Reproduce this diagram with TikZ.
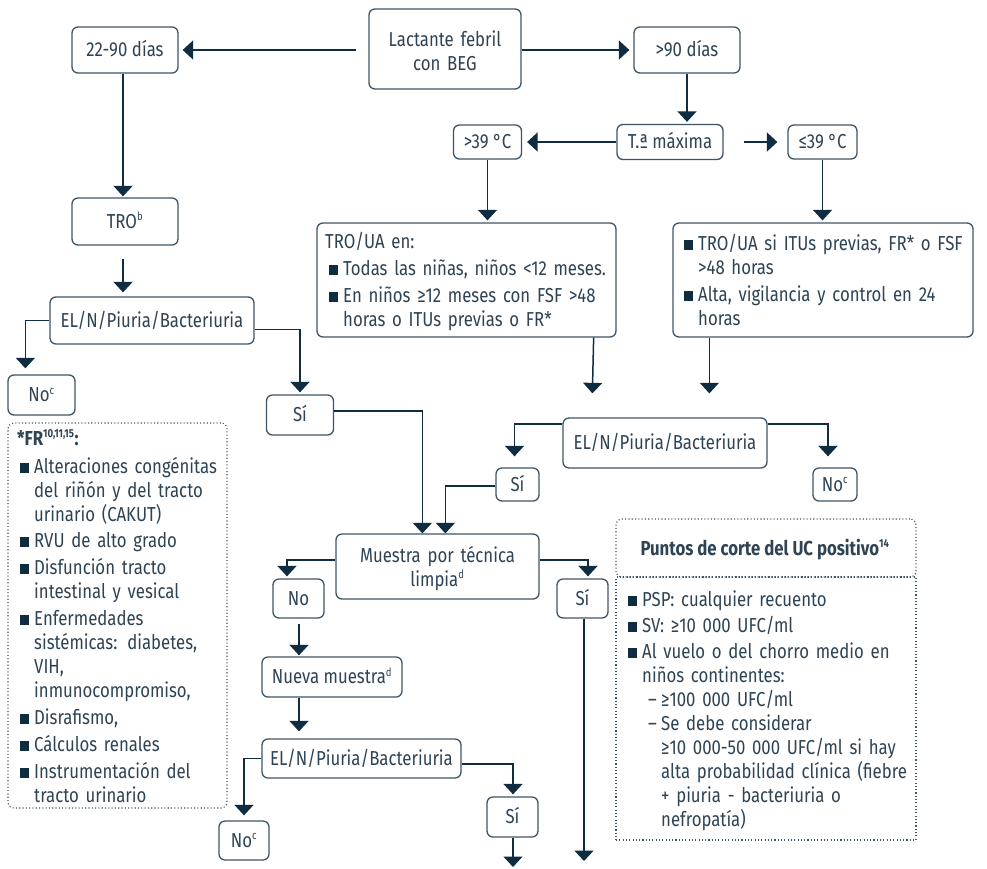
\documentclass[tikz,border=0pt]{standalone}
\usepackage{fontspec}
\setmainfont{Fira Sans}[FakeStretch=0.83]
\usetikzlibrary{arrows.meta,calc}
\definecolor{txt}{HTML}{2E4354}
\definecolor{arc}{HTML}{0F2C40}
\definecolor{brd}{HTML}{3E5566}
\newcommand\fsz{\fontsize{20.2}{24}\selectfont}
\newcommand\bsq{\textcolor{arc}{\rule{8.5pt}{10pt}}}
\newcommand\bl{\makebox[14pt][l]{\bsq}}
\newcommand\hi{\hspace*{14pt}}
\newcommand\sups[1]{\textsuperscript{\fontsize{11.5}{11.5}\selectfont #1}}
\begin{document}
\begin{tikzpicture}[x=1pt,y=-1pt,font=\fsz,
  box/.style={draw=brd,line width=1.3pt,rounded corners=6pt,text=txt,align=center,inner sep=0pt,text height=14pt,text depth=0.6pt},
  ebox/.style={draw=brd,line width=1.3pt,rounded corners=6pt,inner sep=0pt},
  con/.style={draw=arc,line width=1.5pt,-{Triangle[width=19pt,length=10.5pt]}},
  tx/.style={text=txt,align=left,inner sep=0pt,anchor=base west,text width=#1},
  dotbox/.style={draw=brd,line width=1.1pt,dash pattern=on 1.1pt off 2.2pt,inner sep=0pt}]
\fill[white] (0,0) rectangle (987,868);
\useasboundingbox (0,0) rectangle (987,868);
% boxes
\node[ebox,minimum width=152pt,minimum height=80pt] (lact) at (445,49) {};
\node[text=txt,align=center,inner sep=0pt,anchor=base,text width=150pt] (lactt) at (445,46) {Lactante febril\\con BEG};
\node[box,minimum width=106pt,minimum height=46pt] (d2290) at (125,50) {22-90 días};
\node[box,minimum width=106pt,minimum height=46pt] (d90) at (687,50) {>90 días};
\node[box,minimum width=106pt,minimum height=35pt] (tmax) at (670,142) {T.ª máxima};
\node[box,minimum width=68pt,minimum height=34pt] (g39) at (487.5,142) {>39 °C};
\node[box,minimum width=69pt,minimum height=34pt] (le39) at (822.5,142) {≤39 °C};
\node[box,minimum width=106pt,minimum height=47pt] (tro) at (125,221.5) {TRO\sups{b}};
\node[ebox,minimum width=299pt,minimum height=114pt] (trou) at (466.5,280) {};
\node[tx=290pt] (trout) at (325,248) {TRO/UA en:\\[3pt]
  \hspace*{4pt}\bl Todas las niñas, niños <12 meses.\\[3pt]
  \hspace*{4pt}\bl En niños ≥12 meses con FSF >48\\
  \hspace*{18pt}horas o ITUs previas o FR*};
\node[ebox,minimum width=300pt,minimum height=114pt] (rbox) at (823,280) {};
\node[tx=290pt] (rboxt) at (684,250) {\bl TRO/UA si ITUs previas, FR* o FSF\\
  \hi >48 horas\\[3pt]
  \bl Alta, vigilancia y control en 24\\
  \hi horas};
\node[box,minimum width=204pt,minimum height=47pt] (eln1) at (152,320.5) {EL/N/Piuria/Bacteriuria};
\node[box,minimum width=67pt,minimum height=40pt] (no1) at (41.5,395) {No\sups{c}};
\node[box,minimum width=67pt,minimum height=40pt] (si1) at (300,415) {Sí};
\node[box,minimum width=204pt,minimum height=50pt] (eln2) at (665,443) {EL/N/Piuria/Bacteriuria};
\node[box,minimum width=43pt,minimum height=33pt] (si2) at (517.5,484.5) {Sí};
\node[box,minimum width=44pt,minimum height=33pt] (no2) at (835,484.5) {No\sups{c}};
\node[ebox,minimum width=203pt,minimum height=65pt] (mue) at (437.5,566.5) {};
\node[text=txt,align=center,inner sep=0pt,anchor=base,text width=200pt] (muet) at (437.5,562) {Muestra por técnica\\limpia\sups{d}};
\node[box,minimum width=51pt,minimum height=39pt] (no3) at (298.5,598.5) {No};
\node[box,minimum width=51pt,minimum height=39pt] (si3) at (582.5,598.5) {Sí};
\node[box,minimum width=140pt,minimum height=40pt] (nueva) at (332,677) {Nueva muestra\sups{d}};
\node[box,minimum width=199pt,minimum height=39pt] (eln3) at (361.5,758.5) {EL/N/Piuria/Bacteriuria};
\node[box,minimum width=50pt,minimum height=39pt] (no4) at (244,840.5) {No\sups{c}};
\node[box,minimum width=51pt,minimum height=40pt] (si4) at (512.5,817) {Sí};
% FR box
\node[dotbox,rounded corners=6pt,minimum width=219pt,minimum height=385pt] (frbox) at (117.5,615.5) {};
\node[tx=205pt] (frt) at (17,445) {{\bfseries *FR\sups{10,11,15}:}\\[4pt]
  \hspace*{3pt}\bl Alteraciones congénitas\\
  \hspace*{17pt}del riñón y del tracto\\
  \hspace*{17pt}urinario (CAKUT)\\[2pt]
  \hspace*{3pt}\bl RVU de alto grado\\[3pt]
  \hspace*{3pt}\bl Disfunción tracto\\
  \hspace*{17pt}intestinal y vesical\\[3pt]
  \hspace*{3pt}\bl Enfermedades\\
  \hspace*{17pt}sistémicas: diabetes,\\
  \hspace*{17pt}VIH,\\
  \hspace*{17pt}inmunocompromiso,\\[3pt]
  \hspace*{3pt}\bl Disrafismo,\\[3pt]
  \hspace*{3pt}\bl Cálculos renales\\[3pt]
  \hspace*{3pt}\bl Instrumentación del\\
  \hspace*{17pt}tracto urinario};
% Puntos box
\node[dotbox,rounded corners=6pt,minimum width=300pt,minimum height=58pt] (phead) at (766,548) {};
\node[dotbox,minimum width=300pt,minimum height=263pt] (pbody) at (766,708.5) {};
\node[text=txt,inner sep=0pt,anchor=base,font=\fsz\bfseries] (ptitle) at (765,555) {Puntos de corte del UC positivo\sups{14}};
\node[tx=285pt] (pbt) at (628,606) {\bl PSP: cualquier recuento\\[2pt]
  \bl SV: ≥10 000 UFC/ml\\[2pt]
  \bl Al vuelo o del chorro medio en\\
  \hi niños continentes:\\
  \hspace*{20pt}\makebox[13pt][l]{–}≥100 000 UFC/ml\\
  \hspace*{20pt}\makebox[13pt][l]{–}Se debe considerar\\
  \hspace*{33pt}≥10 000-50 000 UFC/ml si hay\\
  \hspace*{33pt}alta probabilidad clínica (fiebre\\
  \hspace*{33pt}+ piuria - bacteriuria o\\
  \hspace*{33pt}nefropatía)};
% free ends
\coordinate (end1) at (584,861);
\coordinate (end2) at (513,867);
% connectors
\draw[con] ($(lact.west)+(-12,1)$) -- ($(d2290.east)+(4,0)$);
\draw[con] (lact.east |- d90.west) -- ($(d90.west)+(-4,0)$);
\draw[con] (d90.south) -- ($(d90.south |- tmax.north)+(0,-2)$);
\draw[con] (tmax.west) -- ($(g39.east)+(5,0)$);
\draw[con] ($(tmax.east)+(20,0)$) -- ($(le39.west)+(-10,0)$);
\draw[con] (g39.south) -- ($(g39.south |- trou.north)+(0,-2)$);
\draw[con] (le39.south) -- ($(le39.south |- rbox.north)+(0,-2)$);
\draw[con] ($(d2290.south)+(-2,0)$) -- ($(tro.north)+(-2,-1)$);
\draw[con] ($(tro.south)+(-2,13)$) -- ($(eln1.north -| tro.south)+(-2,-4)$);
\draw[con] (eln1.west) -| ($(no1.north west)+(18,-6)$);
\draw[con] ($(eln1.east)+(0,9)$) -| ($(si1.north)+(0,-2)$);
\draw[con] ($(si1.east)+(0,-4)$) -| ($(mue.north west)+(87,0)$);
\draw[con] ($(trou.south east)+(-23,0)$) -- ($(eln2.north west)+(30,-24)$);
\draw[con] ($(rbox.south west)+(37,0)$) -- ($(eln2.north west)+(147,-24)$);
\draw[con] ($(eln2.west)+(0,-19)$) -| ($(si2.north)+(-3,-11)$);
\draw[con] ($(eln2.east)+(0,-19)$) -| ($(no2.north)+(-7,-11)$);
\draw[con] ($(si2.west)+(0,1.5)$) -| ($(mue.north west)+(110,0)$);
\draw[con] ($(mue.west)+(0,-6.5)$) -| ($(no3.north)+(-11.5,-2)$);
\draw[con] ($(mue.east)+(0,-6.5)$) -| ($(si3.north)+(5.5,-2)$);
\draw[con] ($(si3.south)+(1.5,0)$) -- (end1);
\draw[con] ($(no3.south)+(0.5,5)$) -- ($(nueva.north -| no3.south)+(0.5,-1)$);
\draw[con] ($(nueva.south -| no3.south)+(0.5,0)$) -- ($(eln3.north -| no3.south)+(0.5,-7)$);
\draw[con] (eln3.west) -| ($(no4.north)+(0,-5)$);
\draw[con] ($(eln3.east)+(0,5.5)$) -| ($(si4.north)+(0.5,-2)$);
\draw[con] ($(si4.south)+(0.5,0)$) -- (end2);
\end{tikzpicture}
\end{document}
